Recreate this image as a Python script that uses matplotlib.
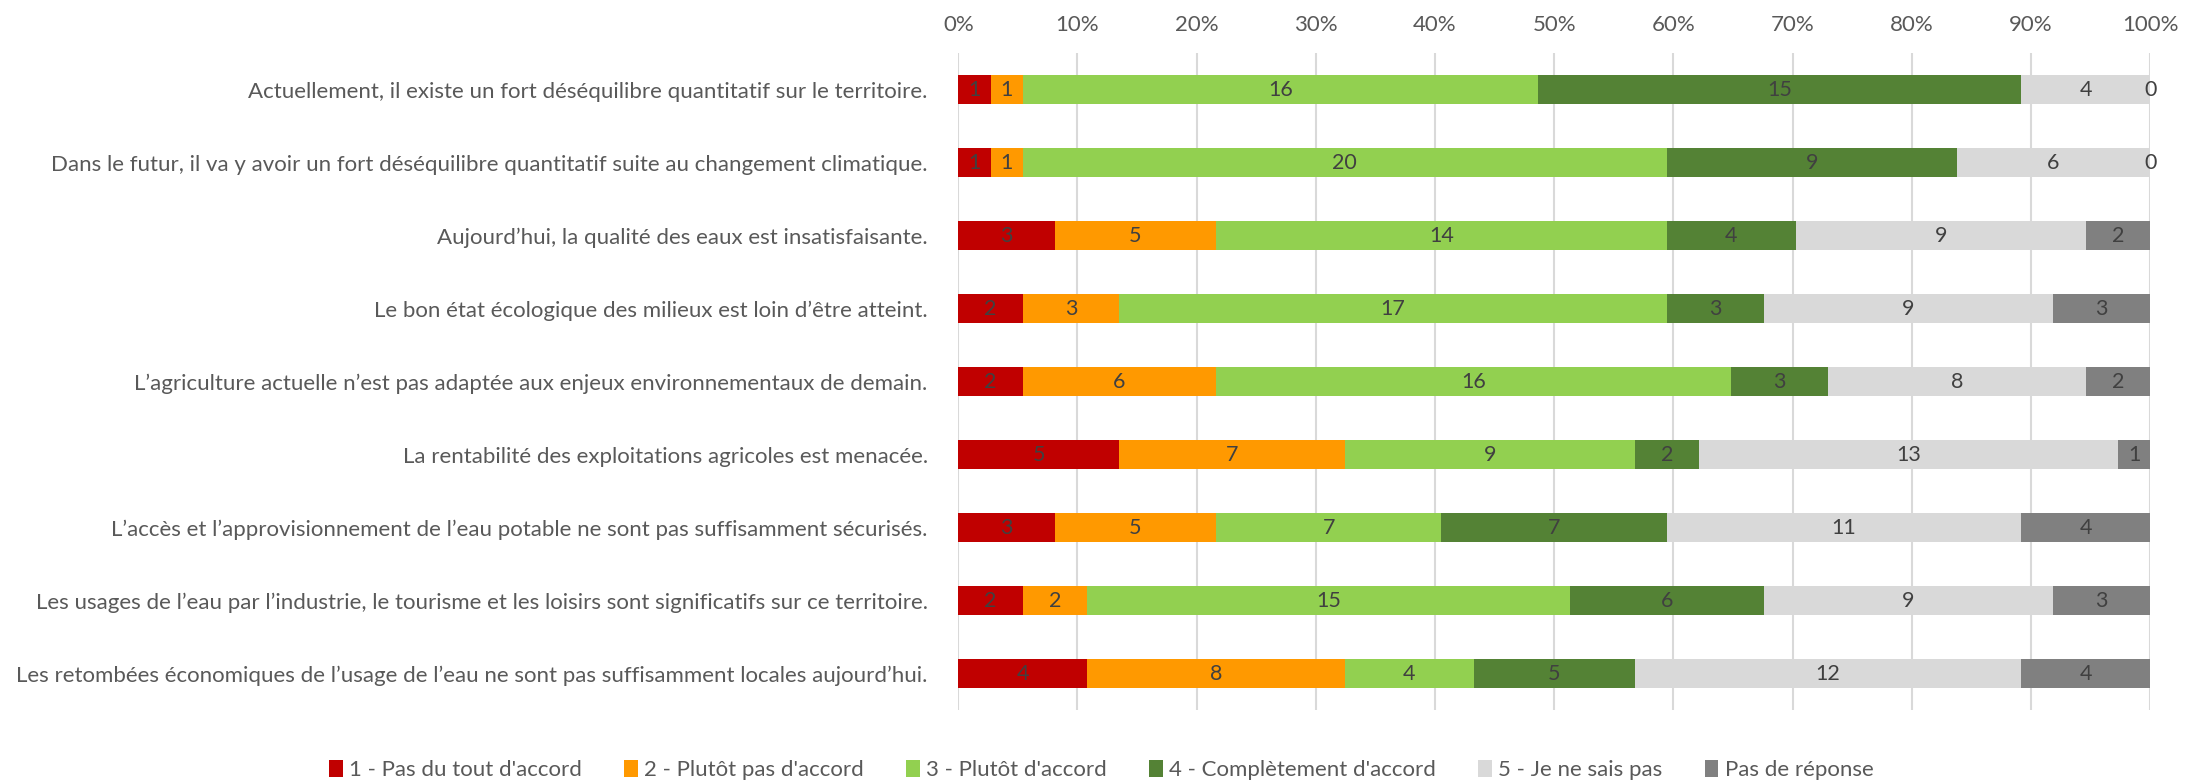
import matplotlib
matplotlib.use("Agg")
import matplotlib.pyplot as plt
import numpy as np

plt.rcParams['font.family'] = ['Lato', 'DejaVu Sans']

categories = [
    "Actuellement, il existe un fort déséquilibre quantitatif sur le territoire.",
    "Dans le futur, il va y avoir un fort déséquilibre quantitatif suite au changement climatique.",
    "Aujourd’hui, la qualité des eaux est insatisfaisante.",
    "Le bon état écologique des milieux est loin d’être atteint.",
    "L’agriculture actuelle n’est pas adaptée aux enjeux environnementaux de demain.",
    "La rentabilité des exploitations agricoles est menacée.",
    "L’accès et l’approvisionnement de l’eau potable ne sont pas suffisamment sécurisés.",
    "Les usages de l’eau par l’industrie, le tourisme et les loisirs sont significatifs sur ce territoire.",
    "Les retombées économiques de l’usage de l’eau ne sont pas suffisamment locales aujourd’hui.",
]
series_names = ["1 - Pas du tout d'accord", "2 - Plutôt pas d'accord", "3 - Plutôt d'accord",
                "4 - Complètement d'accord", "5 - Je ne sais pas", "Pas de réponse"]
s1 = [1, 1, 3, 2, 2, 5, 3, 2, 4]
s2 = [1, 1, 5, 3, 6, 7, 5, 2, 8]
s3 = [16, 20, 14, 17, 16, 9, 7, 15, 4]
s4 = [15, 9, 4, 3, 3, 2, 7, 6, 5]
s5 = [4, 6, 9, 9, 8, 13, 11, 9, 12]
s6 = [0, 0, 2, 3, 2, 1, 4, 3, 4]
colors = ["#C00000", "#FF9900", "#92D050", "#548235", "#D9D9D9", "#808080"]
ticks = [0, 10, 20, 30, 40, 50, 60, 70, 80, 90, 100]
tick_labels = [f"{t}%" for t in ticks]

data = np.array([s1, s2, s3, s4, s5, s6], dtype=float)
totals = data.sum(axis=0)
pct = data / totals * 100

fig = plt.figure(figsize=(22.03, 7.82), dpi=100)
ax = fig.add_axes([0.435, 0.092, 0.541, 0.840])

y = np.arange(len(categories))
left = np.zeros(len(categories))
for i in range(6):
    ax.barh(y, pct[i], left=left, height=0.4, color=colors[i], label=series_names[i], zorder=3)
    for j in range(len(categories)):
        ax.text(left[j] + pct[i][j] / 2, y[j], f"{int(data[i][j])}", ha='center', va='center',
                fontsize=15.5, color='#404040', zorder=4)
    left += pct[i]

ax.set_xlim(0, 100)
ax.set_ylim(len(categories) - 0.5, -0.5)
ax.set_yticks(y)
ax.set_yticklabels(categories, fontsize=16, color='#595959')
ax.set_xticks(ticks)
ax.set_xticklabels(tick_labels, fontsize=16, color='#595959')
ax.xaxis.tick_top()
ax.tick_params(axis='both', length=0)
ax.tick_params(axis='x', pad=13)
ax.tick_params(axis='y', pad=22)
ax.grid(axis='x', color='#D9D9D9', linewidth=1.5, zorder=0)
for s in ax.spines.values():
    s.set_visible(False)

handles, labels = ax.get_legend_handles_labels()
fig.legend(handles, labels, loc='center', ncol=6, bbox_to_anchor=(0.5, 1 - 770 / 782),
           frameon=False, fontsize=16, handlelength=0.6, handleheight=0.8,
           columnspacing=1.9, handletextpad=0.3, labelcolor='#595959')

fig.savefig("out.png", dpi=100)
